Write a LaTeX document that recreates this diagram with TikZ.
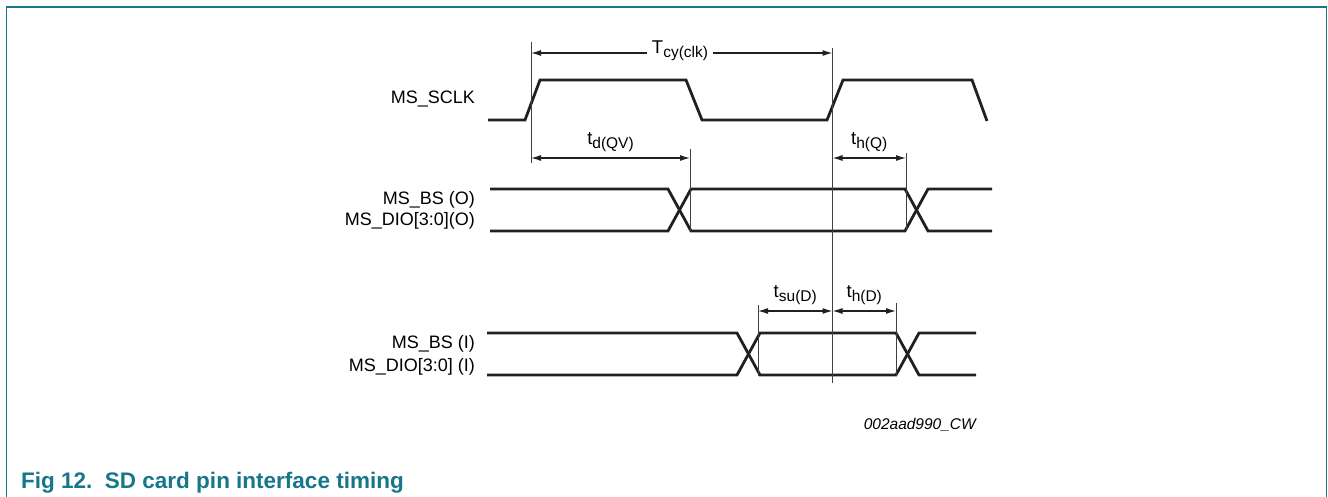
\documentclass[tikz,border=0pt]{standalone}
\usepackage{fontspec}
\setmainfont{Liberation Sans}
\usepackage{xcolor}
\usetikzlibrary{arrows.meta, positioning, calc}
\definecolor{FigTeal}{HTML}{17778A}
\definecolor{WaveInk}{HTML}{231F20}
\newcommand{\tsym}[2]{#1{\fontsize{15.5}{16}\selectfont\raisebox{-4pt}{#2}}}

\begin{document}
\begin{tikzpicture}[x=1pt, y=-1pt,
    wave/.style={draw=WaveInk, line width=2.8pt},
    marker/.style={draw=black!75, line width=0.8pt},
    dimline/.style={draw=WaveInk, line width=1.2pt,
        {Latex[length=10pt,width=6pt]}-{Latex[length=10pt,width=6pt]}},
    siglabel/.style={anchor=east, inner sep=0pt, font=\fontsize{18}{20}\selectfont},
    dimlabel/.style={inner sep=1pt, font=\fontsize{18.5}{20}\selectfont}]
\useasboundingbox (0,0) rectangle (1328,497);
\draw[FigTeal, line width=1.5pt] (6.5,497) -- (6.5,7) -- (1326.5,7) -- (1326.5,497);

\node[siglabel] (sclk) at (475,99) {MS\_SCLK};
\node[siglabel] (bsOut) at (475,200) {MS\_BS (O)};
\node[siglabel] (dioOut) at (475,221) {MS\_DIO[3:0](O)};
\node[siglabel] (bsIn) at (475,344) {MS\_BS (I)};
\node[siglabel] (dioIn) at (475,367) {MS\_DIO[3:0] (I)};

\draw[wave] (488,120) -- (525,120) -- (540,80) -- (686,80) -- (702,120)
    -- (827,120) -- (843,80) -- (972,80) -- (987,121);

\draw[wave] (490,189) -- (668,189) -- (691,231) -- (905,231) -- (928,189) -- (992,189);
\draw[wave] (490,231) -- (668,231) -- (691,189) -- (905,189) -- (928,231) -- (992,231);

\draw[wave] (487,333) -- (737,333) -- (760,375) -- (896,375) -- (919,333) -- (976,333);
\draw[wave] (487,375) -- (737,375) -- (760,333) -- (896,333) -- (919,375) -- (976,375);

\coordinate (riseA) at (531,53);
\coordinate (riseB) at (832.5,53);
\coordinate (tdA) at (531,158);
\coordinate (tdB) at (690,158);
\coordinate (thqA) at (832.5,158);
\coordinate (thqB) at (906,158);
\coordinate (tsuA) at (758,311);
\coordinate (tsuB) at (832.5,311);
\coordinate (thdA) at (832.5,311);
\coordinate (thdB) at (896,311);

\draw[marker] (531,42) -- (531,163);
\draw[marker] (832.5,48) -- (832.5,383);
\draw[marker] (690,149) -- (690,231);
\draw[marker] (906,153) -- (906,231);
\draw[marker] (758,305) -- (758,376);
\draw[marker] (896,303) -- (896,376);

\draw[dimline] (riseA) -- (riseB);
\node[dimlabel, fill=white, inner xsep=5pt] (tcy) at (680,51) {\tsym{T}{cy(clk)}};
\draw[dimline] (tdA) -- (tdB) node[dimlabel, midway, above=5pt] (td) {\tsym{t}{d(QV)}};
\draw[dimline] (thqA) -- (thqB) node[dimlabel, midway, above=5pt] (thq) {\tsym{t}{h(Q)}};
\draw[dimline] (tsuA) -- (tsuB) node[dimlabel, midway, above=5pt] (tsu) {\tsym{t}{su(D)}};
\draw[dimline] (thdA) -- (thdB) node[dimlabel, midway, above=5pt] (thd) {\tsym{t}{h(D)}};

\node[anchor=east, inner sep=0pt, font=\fontsize{15.5}{17}\selectfont\itshape] (code) at (976,425) {002aad990\_CW};
\node[anchor=base west, inner sep=0pt, text=FigTeal, font=\fontsize{22.5}{25}\selectfont\bfseries] (title) at (21,488) {Fig 12.\ \ SD card pin interface timing};
\end{tikzpicture}
\end{document}
